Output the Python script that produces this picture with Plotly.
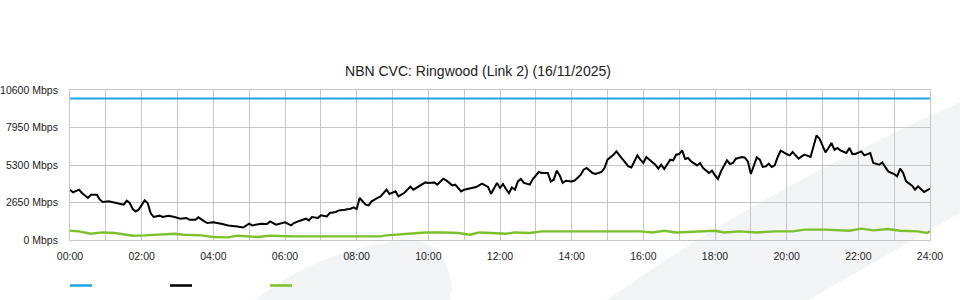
import plotly.graph_objects as go

# ---------------- data ----------------
title_text = "NBN CVC: Ringwood (Link 2) (16/11/2025)"

y_ticks = [0, 2650, 5300, 7950, 10600]
y_tick_labels = [f"{v} Mbps" for v in y_ticks]
x_tick_hours = list(range(0, 25))
x_tick_labels = [f"{h:02d}:00" if h % 2 == 0 else "" for h in x_tick_hours]

capacity_minutes = [0, 1440]
capacity_mbps = [10000, 10000]

traffic_minutes = [
    0, 5, 15, 20, 30, 35, 45, 50, 55, 65, 70, 80, 90, 95, 100, 105, 110, 115, 125, 130,
    135, 140, 150, 155, 165, 175, 185, 195, 200, 210, 215, 225, 230, 240, 250, 255, 265, 275, 280, 290,
    300, 305, 320, 330, 335, 345, 360, 370, 375, 385, 395, 400, 405, 415, 420, 430, 435, 445, 450, 460,
    470, 475, 480, 485, 495, 500, 505, 515, 520, 530, 535, 545, 550, 560, 570, 575, 585, 595, 600, 610,
    615, 625, 630, 640, 645, 655, 660, 670, 680, 690, 700, 705, 710, 715, 720, 725, 730, 735, 740, 745,
    750, 755, 760, 770, 775, 785, 790, 800, 805, 810, 815, 820, 825, 830, 840, 845, 855, 860, 865, 875,
    880, 890, 895, 900, 910, 915, 920, 930, 935, 940, 950, 955, 960, 965, 970, 980, 985, 990, 995, 1005,
    1010, 1015, 1020, 1025, 1030, 1035, 1040, 1050, 1055, 1060, 1070, 1075, 1080, 1085, 1090, 1100, 1105, 1110, 1115, 1125,
    1130, 1135, 1140, 1145, 1150, 1155, 1160, 1165, 1170, 1175, 1180, 1185, 1190, 1200, 1205, 1210, 1220, 1225, 1230, 1240,
    1250, 1255, 1265, 1270, 1275, 1280, 1285, 1290, 1300, 1305, 1310, 1315, 1325, 1330, 1335, 1340, 1345, 1355, 1360, 1365,
    1370, 1380, 1385, 1390, 1395, 1400, 1410, 1415, 1420, 1430, 1435, 1440,
]
traffic_mbps = [
    3555, 3365, 3555, 3320, 2970, 3200, 3200, 2850, 2685, 2730, 2685, 2615, 2495, 2780, 2615, 2190, 2020, 2140, 2800, 2615,
    1910, 1625, 1720, 1625, 1720, 1625, 1505, 1555, 1435, 1435, 1600, 1315, 1200, 1245, 1200, 1130, 1030, 1010, 960, 880,
    1150, 1030, 1150, 1130, 1315, 1080, 1245, 1030, 1200, 1365, 1505, 1385, 1625, 1555, 1740, 1670, 1910, 1980, 2090, 2140,
    2210, 2305, 2190, 2970, 2495, 2445, 2730, 2970, 3080, 3555, 3250, 3435, 3080, 3340, 3770, 3555, 3790, 4070, 4030, 4070,
    3910, 4330, 4210, 3860, 3910, 3435, 3555, 3625, 3745, 3980, 3745, 3270, 3605, 4030, 3675, 3960, 3605, 3320, 3715, 3555,
    4140, 4310, 4030, 3910, 4310, 4805, 4735, 4735, 4140, 4260, 4900, 4565, 4030, 4190, 4140, 4200, 4600, 4970, 5090, 4735,
    4665, 4805, 5090, 5675, 6030, 6260, 5980, 5440, 5200, 5130, 5980, 5675, 5440, 5865, 5675, 5320, 5040, 5320, 5015, 5675,
    5625, 6030, 6075, 6330, 5725, 5795, 5555, 5270, 5440, 5090, 4735, 4900, 4565, 4310, 4850, 5625, 5370, 5440, 5745, 5865,
    5815, 5555, 4665, 5320, 5835, 5675, 5160, 5200, 5390, 5160, 5270, 5865, 6310, 6075, 5980, 6220, 5745, 5910, 6030, 5865,
    7390, 7160, 6190, 6500, 6855, 6380, 6500, 6330, 6150, 6500, 6075, 6075, 6260, 5980, 6075, 6150, 5440, 5320, 5485, 5200,
    4850, 4665, 4495, 5040, 4735, 4140, 3840, 3555, 3790, 3390, 3505, 3625,
]

upload_minutes = [
    0, 15, 35, 55, 75, 90, 105, 125, 150, 175, 190, 220, 240, 265, 280, 295, 315, 335, 355, 375,
    450, 520, 530, 565, 595, 625, 650, 670, 685, 705, 730, 745, 770, 790, 830, 860, 885, 915, 955, 975,
    995, 1015, 1045, 1080, 1095, 1120, 1150, 1180, 1210, 1230, 1265, 1285, 1305, 1325, 1345, 1370, 1390, 1420, 1435, 1440,
]
upload_mbps = [
    655, 610, 445, 535, 495, 375, 305, 325, 375, 445, 375, 325, 210, 185, 305, 255, 210, 305, 255, 255,
    255, 255, 325, 445, 535, 535, 495, 375, 535, 495, 445, 535, 495, 610, 610, 655, 610, 655, 610, 535,
    655, 535, 610, 655, 535, 610, 535, 610, 610, 730, 730, 680, 655, 800, 680, 775, 655, 610, 495, 610,
]

# ---------------- styling ----------------
FONT = "Liberation Sans, Arial, sans-serif"
BLUE = "#1ea5e3"
BLACK = "#000000"
GREEN = "#7cc02c"
GRID = "#c6c6c6"
WATERMARK = "#f3f4f6"

L, R, T, B = 70, 930, 90, 240  # plot area in pixels


def px(x):
    return (x - L) / (R - L)


def py(y):
    return (B - y) / (B - T)


def path(cmds):
    out = []
    for c in cmds:
        if isinstance(c, str):
            out.append(c)
        else:
            out.append(f"{px(c[0]):.4f},{py(c[1]):.4f}")
    return " ".join(out)


fig = go.Figure()

fig.add_trace(go.Scatter(x=[m / 60 for m in capacity_minutes], y=capacity_mbps, mode="lines",
                         line=dict(color=BLUE, width=2.2), showlegend=False, hoverinfo="skip"))
fig.add_trace(go.Scatter(x=[m / 60 for m in traffic_minutes], y=traffic_mbps, mode="lines",
                         line=dict(color=BLACK, width=2), showlegend=False))
fig.add_trace(go.Scatter(x=[m / 60 for m in upload_minutes], y=upload_mbps, mode="lines",
                         line=dict(color=GREEN, width=2.4), showlegend=False))

shapes = [
    # background watermark swooshes
    dict(type="path", xref="paper", yref="paper", layer="below", line=dict(width=0), fillcolor=WATERMARK,
         path=path(["M", (248, 305), "Q", (320, 248), (405, 240), "Q", (447, 238), (452, 290), "L", (448, 305), "Z"])),
    dict(type="path", xref="paper", yref="paper", layer="below", line=dict(width=0), fillcolor=WATERMARK,
         path=path(["M", (600, 305), "Q", (760, 190), (965, 100), "L", (965, 210), "L", (800, 305), "Z"])),
]
# legend swatches (no legend text in the original)
for x0, col in [(70, BLUE), (170, BLACK), (270, GREEN)]:
    shapes.append(dict(type="line", xref="paper", yref="paper", x0=px(x0), x1=px(x0 + 22),
                       y0=py(285.5), y1=py(285.5), line=dict(color=col, width=2.5)))

fig.update_layout(
    width=960, height=300,
    margin=dict(l=L, r=960 - R, t=T, b=300 - B, autoexpand=False),
    paper_bgcolor="white", plot_bgcolor="rgba(0,0,0,0)",
    font=dict(family=FONT, size=10.5, color="#222"),
    title=dict(text=title_text, x=478 / 960, xref="container", xanchor="center", y=1 - 71 / 300, yref="container",
               yanchor="middle", font=dict(size=14, color="#222", family=FONT)),
    shapes=shapes,
    showlegend=False,
    xaxis=dict(range=[0, 24], tickvals=x_tick_hours, ticktext=x_tick_labels, showgrid=True,
               gridcolor=GRID, gridwidth=1, zeroline=False, ticks="", automargin=False,
               ticklabelstandoff=6, tickfont=dict(size=10.5, color="#222")),
    yaxis=dict(range=[0, 10600], tickvals=y_ticks, ticktext=y_tick_labels, showgrid=True,
               gridcolor=GRID, gridwidth=1, zeroline=False, ticks="", automargin=False,
               ticklabelstandoff=9, tickfont=dict(size=10.5, color="#222")),
)
# outer frame lines at plot edges
fig.update_xaxes(mirror=True, showline=True, linecolor=GRID, linewidth=1)
fig.update_yaxes(mirror=True, showline=True, linecolor=GRID, linewidth=1)

fig.write_html("out.html")
